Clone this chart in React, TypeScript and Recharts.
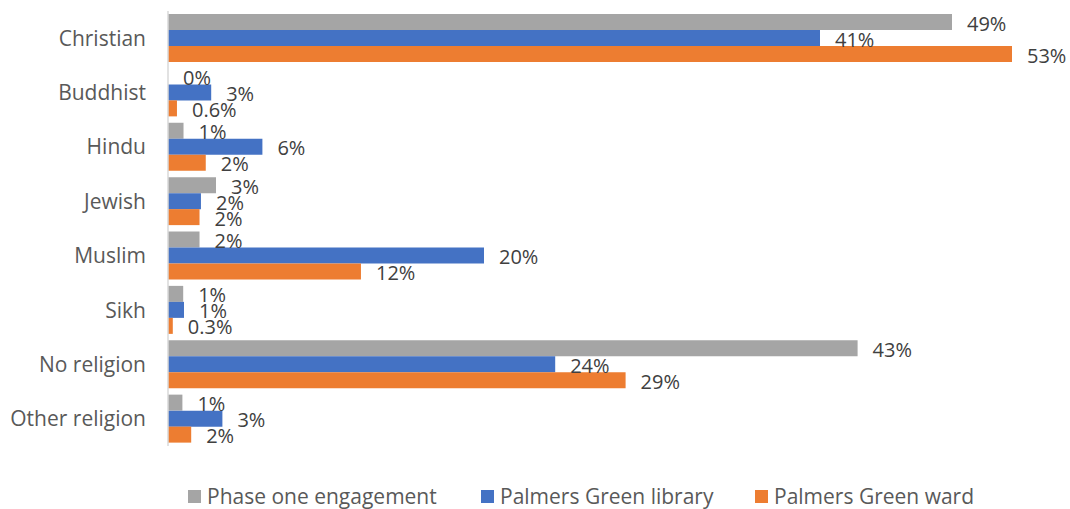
import { BarChart, Bar, XAxis, YAxis, LabelList } from "recharts";

const categories = ["Christian", "Buddhist", "Hindu", "Jewish", "Muslim", "Sikh", "No religion", "Other religion"];

const phaseOne = [49, 0, 0.97, 3.0, 1.97, 0.95, 43.1, 0.9];
const library = [40.75, 2.7, 5.9, 2.06, 19.75, 1.0, 24.2, 3.4];
const ward = [52.75, 0.56, 2.36, 1.97, 12.06, 0.3, 28.6, 1.45];

const phaseOneLabels = ["49%", "0%", "1%", "3%", "2%", "1%", "43%", "1%"];
const libraryLabels = ["41%", "3%", "6%", "2%", "20%", "1%", "24%", "3%"];
const wardLabels = ["53%", "0.6%", "2%", "2%", "12%", "0.3%", "29%", "2%"];

const seriesNames = ["Phase one engagement", "Palmers Green library", "Palmers Green ward"];
const colors = ["#A5A5A5", "#4472C4", "#ED7D31"];

const FONT = "'Open Sans', sans-serif";

const data = categories.map((name, i) => ({
  name,
  phaseOne: phaseOne[i],
  library: library[i],
  ward: ward[i],
  phaseOneLabel: phaseOneLabels[i],
  libraryLabel: libraryLabels[i],
  wardLabel: wardLabels[i],
}));

// label drawn to the right of the bar end
function BarValue(props: any) {
  const { x, y, width, height, value } = props;
  if (value == null) return null;
  return (
    <text
      x={Number(x) + Number(width || 0) + 15}
      y={Number(y) + Number(height) / 2 + 1}
      dominantBaseline="central"
      fontSize={20}
      fill="#404040"
      fontFamily={FONT}
    >
      {value}
    </text>
  );
}

function LegendRow() {
  const lefts = [188, 481, 755];
  return (
    <div style={{ position: "absolute", left: 0, top: 483, width: 1070, height: 26, fontFamily: FONT, fontSize: 21, color: "#595959" }}>
      {seriesNames.map((s, i) => (
        <div key={s} style={{ position: "absolute", left: lefts[i], top: 0, height: 26, display: "flex", alignItems: "center" }}>
          <span style={{ width: 13, height: 13, background: colors[i], display: "inline-block", marginRight: 6 }} />
          <span style={{ lineHeight: "26px" }}>{s}</span>
        </div>
      ))}
    </div>
  );
}

export default function App() {
  return (
    <div style={{ width: 1070, height: 509, background: "#fff", position: "relative", overflow: "hidden" }}>
      <style>{"body{margin:0}"}</style>
      <BarChart
        width={1070}
        height={462}
        data={data}
        layout="vertical"
        margin={{ top: 11, right: 22, left: 0, bottom: 16 }}
        barGap={0}
        barSize={16}
      >
        <XAxis type="number" domain={[0, 55]} hide />
        <YAxis
          dataKey="name"
          type="category"
          width={168}
          axisLine={{ stroke: "#D9D9D9", strokeWidth: 1.5 }}
          tickLine={false}
          tick={{ fontSize: 21, fill: "#595959", fontFamily: FONT, dx: -14 }}
        />
        <Bar dataKey="phaseOne" fill={colors[0]} minPointSize={0.01} isAnimationActive={false}>
          <LabelList dataKey="phaseOneLabel" content={BarValue} />
        </Bar>
        <Bar dataKey="library" fill={colors[1]} isAnimationActive={false}>
          <LabelList dataKey="libraryLabel" content={BarValue} />
        </Bar>
        <Bar dataKey="ward" fill={colors[2]} isAnimationActive={false}>
          <LabelList dataKey="wardLabel" content={BarValue} />
        </Bar>
      </BarChart>
      <LegendRow />
    </div>
  );
}
